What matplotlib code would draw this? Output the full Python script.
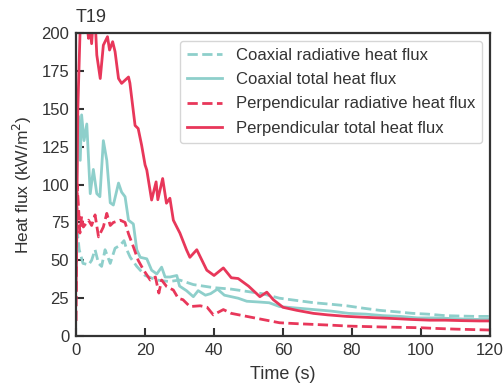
import matplotlib.pyplot as plt

plt.rcParams['font.family'] = ['Liberation Sans', 'DejaVu Sans']

# values (time in s, heat flux in kW/m2)
t_coax_rad = [0, 0.4, 0.9, 2, 3.6, 4.5, 5.5, 6.5, 7.4, 8.4, 9.9, 11.3, 12.8, 13.9, 14.7, 15.7,
              17.6, 20, 23.4, 27, 30, 34, 39.8, 45, 49.5, 54, 59, 64, 69, 74, 78.5, 83, 88,
              93, 97.6, 102, 107, 112, 116, 120]
coax_rad = [45, 68, 57, 48, 47, 50, 57, 48, 46, 57, 48, 58, 60, 63, 57, 52,
            46, 40, 37, 36, 37, 34, 32, 31, 29.5, 28, 25, 23.5, 22, 21, 20, 18.5, 17,
            16, 15, 14.5, 13.5, 13.2, 13, 13]

t_coax_tot = [0, 0.7, 1.2, 1.6, 2.3, 3.1, 4.1, 5, 6, 6.9, 7.9, 8.9, 9.9, 10.8, 12.3, 13.2,
              14.2, 15.2, 16.6, 17.6, 18.6, 20.5, 21.9, 23.4, 24.8, 25.8, 27.2, 29.2, 30,
              32, 34, 35.4, 37.5, 39, 41, 43, 45, 47, 49.5, 53, 56, 59, 64, 69, 74, 79,
              84, 89, 94, 99, 104, 110, 115, 120]
coax_tot = [90, 145, 116, 146, 129, 140, 94, 110, 94, 92, 129, 116, 88, 86.5, 101, 95,
            92, 76.5, 74, 57, 52, 51, 43.5, 41, 45.5, 39, 39, 40, 33,
            30, 26, 30, 27, 28, 31, 27, 26, 25, 23, 22.5, 22, 19.5, 18.5, 17.5, 16.5, 15,
            14.5, 13.5, 13, 12, 12, 11.5, 11, 11]

t_perp_rad = [0, 0.3, 0.7, 1.1, 1.6, 2.1, 3.6, 4.5, 5.5, 6.5, 7.9, 8.9, 9.9, 10.8, 12.8, 14.2,
              15.2, 16.6, 18, 19.6, 21.5, 23, 24, 24.8, 26.3, 28.2, 29.6, 31, 33, 36, 38,
              39.8, 42.7, 45, 49.5, 54, 59, 64, 69, 74, 79, 84, 89, 94, 100, 105, 110,
              115, 120]
perp_rad = [10, 100, 85, 68, 79, 72, 76.5, 73, 80, 65.5, 72, 81, 73, 75, 76.5, 75,
            67.5, 59, 50, 43.5, 37, 39, 28.4, 37, 32.6, 30.4, 25, 24, 19.5, 20, 19,
            14, 17.5, 15, 13, 11, 8.8, 8.2, 7.7, 7.2, 6.6, 6.3, 6, 5.8, 5.5, 5, 4.6,
            4.3, 4]

t_perp_tot = [0, 0.5, 1.2, 2, 3, 3.6, 4, 4.5, 5, 5.6, 6, 7, 7.9, 9.1, 9.7, 10.6, 11.3,
              12.3, 13.2, 15.2, 15.6, 17.1, 18, 19, 20, 20.5, 21.9, 23.2, 23.7, 25.1,
              26.2, 27.2, 28.2, 29.2, 30.1, 32, 33, 35, 37.9, 40, 42.7, 45, 47, 50,
              53.3, 55.3, 57.2, 60, 64, 68.8, 73, 78.5, 83, 88, 93, 97, 102.6, 107, 112,
              117, 120]
perp_tot = [30, 150, 205, 215, 210, 196.5, 205, 193, 210, 205, 185.5, 170, 192, 197.6, 188.8,
            194.3, 187.7, 170, 166.8, 171, 167, 139, 137, 126, 113, 109.6, 89.8, 101.8, 90,
            104, 87.7, 91, 76.5, 72, 68, 57, 52, 57, 43.5, 40, 45, 38.5, 38, 33, 26, 29,
            24, 19, 17, 15, 14, 13, 12.5, 12, 11.5, 11, 10.5, 10.5, 10.2, 10, 10]

teal = '#8ecfcb'
red = '#e8375a'
ink = '#333333'

fig = plt.figure(figsize=(5.04, 3.89), dpi=100)
ax = fig.add_axes([0.151, 0.136, 0.821, 0.779])

ax.plot(t_coax_rad, coax_rad, '--', color=teal, lw=2, label='Coaxial radiative heat flux')
ax.plot(t_coax_tot, coax_tot, '-', color=teal, lw=2, label='Coaxial total heat flux')
ax.plot(t_perp_rad, perp_rad, '--', color=red, lw=2, label='Perpendicular radiative heat flux')
ax.plot(t_perp_tot, perp_tot, '-', color=red, lw=2, label='Perpendicular total heat flux')

ax.set_xlim(0, 120)
ax.set_ylim(0, 200)
ax.set_xticks(range(0, 121, 20))
ax.set_yticks(range(0, 201, 25))
ax.tick_params(direction='in', length=6, width=1.5, colors=ink, labelsize=12, pad=5)
for s in ax.spines.values():
    s.set_linewidth(1.6)
    s.set_color(ink)

ax.set_xlabel('Time (s)', fontsize=13, color=ink, labelpad=6)
ax.set_ylabel('Heat flux (kW/m$^2$)', fontsize=12.5, color=ink, labelpad=5)
ax.set_title('T19', loc='left', fontsize=13, color=ink, pad=8)

leg = ax.legend(loc='upper right', fontsize=12, frameon=True, borderaxespad=0.45,
                borderpad=0.45, handlelength=2.1, handletextpad=0.8, labelspacing=0.55)
leg.get_frame().set_edgecolor('#cccccc')
for txt in leg.get_texts():
    txt.set_color(ink)

plt.savefig('out.png', dpi=100)
